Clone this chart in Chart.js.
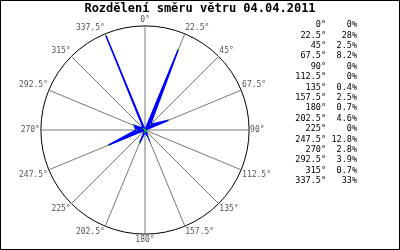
<!DOCTYPE html>
<html>
<head>
<meta charset="utf-8">
<script src="https://cdn.jsdelivr.net/npm/chart.js@4"></script>
<style>
  html, body { margin: 0; padding: 0; background: #fff; }
  #wrap { position: relative; width: 398px; height: 248px; border: 1px solid #000; }
</style>
</head>
<body>
<div id="wrap"><canvas id="windChart"></canvas></div>
<script>
// wind direction data (percent of time per direction)
const title = 'Rozdělení směru větru 04.04.2011';
const directions = ['0°', '22.5°', '45°', '67.5°', '90°', '112.5°', '135°', '157.5°',
                    '180°', '202.5°', '225°', '247.5°', '270°', '292.5°', '315°', '337.5°'];
const shares = [0, 28, 2.5, 8.2, 0, 0, 0.4, 2.5, 0.7, 4.6, 0, 12.8, 2.8, 3.9, 0.7, 33];
const shareLabels = ['0%', '28%', '2.5%', '8.2%', '0%', '0%', '0.4%', '2.5%',
                     '0.7%', '4.6%', '0%', '12.8%', '2.8%', '3.9%', '0.7%', '33%'];
const scaleMax = 33.6;

const mono = "'DejaVu Sans Mono', monospace";

// title and the table on the right
const sidePlugin = {
    id: 'side',
    afterDraw(chart) {
        const c = chart.ctx;
        c.save();
        c.fillStyle = '#000';
        c.textBaseline = 'middle';
        c.font = 'bold 12px ' + mono;
        c.textAlign = 'center';
        c.fillText(title, 199, 8);
        c.font = '8.5px ' + mono;
        c.textAlign = 'right';
        for (let i = 0; i < directions.length; i++) {
            let y = 24 + i * 10.4;
            c.fillText(directions[i], 325, y);
            c.fillText(shareLabels[i], 356, y);
        }
        c.restore();
    }
};

const ctx = document.getElementById('windChart').getContext('2d');
const windChart = new Chart(ctx, {
    type: 'radar',
    data: {
        labels: directions,
        datasets: [{
            data: shares,
            backgroundColor: '#0000ff',
            borderColor: '#0000ff',
            borderWidth: 1.5,
            fill: true,
            pointRadius: 0.8,
            pointBackgroundColor: '#00dd00',
            pointBorderColor: '#00dd00',
            pointBorderWidth: 0
        }]
    },
    options: {
        responsive: true,
        maintainAspectRatio: false,
        animation: false,
        layout: { padding: { left: 19, right: 127, top: 13, bottom: 1 } },
        plugins: { legend: { display: false }, tooltip: { enabled: false }, title: { display: false } },
        scales: {
            r: {
                min: 0,
                max: scaleMax,
                ticks: { display: false, stepSize: scaleMax },
                grid: { circular: true, color: '#000', lineWidth: 1 },
                angleLines: { color: '#777', lineWidth: 1 },
                pointLabels: {
                    color: '#555',
                    padding: 1,
                    font: { family: mono, size: 8 }
                }
            }
        }
    },
    plugins: [sidePlugin]
});
</script>
</body>
</html>
